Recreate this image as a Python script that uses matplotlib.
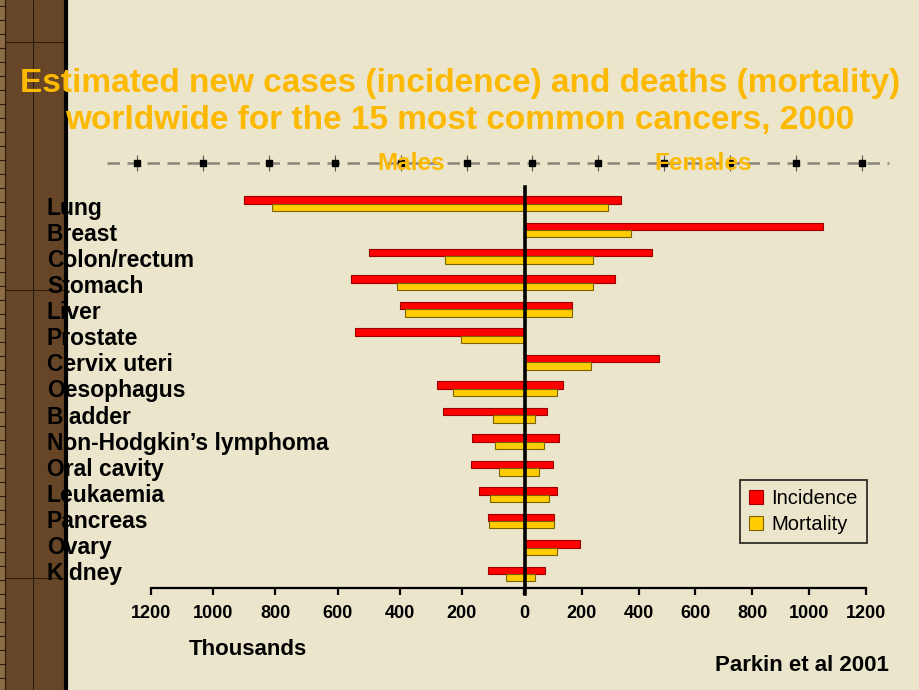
import numpy as np
import matplotlib
matplotlib.use("Agg")
import matplotlib.pyplot as plt
from matplotlib.lines import Line2D
from matplotlib.patches import Rectangle

plt.rcParams["font.family"] = ["Liberation Sans", "DejaVu Sans"]

# values in thousands (Parkin et al 2001)
cancers = ["Lung", "Breast", "Colon/rectum", "Stomach", "Liver", "Prostate",
           "Cervix uteri", "Oesophagus", "Bladder", "Non-Hodgkin\u2019s lymphoma",
           "Oral cavity", "Leukaemia", "Pancreas", "Ovary", "Kidney"]
male_inc = [902, np.nan, 499, 558, 398, 543, np.nan, 279, 260, 167, 170, 144, 116, np.nan, 117]
male_mort = [810, np.nan, 255, 407, 384, 204, np.nan, 227, 99, 93, 81, 109, 112, np.nan, 57]
female_inc = [337, 1050, 446, 318, 166, np.nan, 471, 133, 78, 120, 97, 113, 101, 192, 72]
female_mort = [293, 373, 240, 241, 165, np.nan, 233, 112, 35, 68, 48, 86, 101, 114, 35]
ticks = [0, 200, 400, 600, 800, 1000, 1200]
series = ["Incidence", "Mortality"]

PAPER = "#ebe5cc"; BROWN = "#674628"; GOLD = "#fdb900"
RED = "#ff0000"; RED_EDGE = "#9a0000"; YEL = "#ffcc00"; YEL_EDGE = "#7a6400"

W, H = 920, 690
def fx(x): return x / W
def fy(y): return 1 - y / H

fig = plt.figure(figsize=(W / 100, H / 100), dpi=100)
fig.patch.set_facecolor(PAPER)

# ---- dark strip on the left ----
def fline(xs, ys, **kw):
    fig.add_artist(Line2D([fx(x) for x in xs], [fy(y) for y in ys],
                          transform=fig.transFigure, **kw))
fig.add_artist(Rectangle((0, 0), fx(65), 1, transform=fig.transFigure,
                         fc=BROWN, ec="none", zorder=0))
fig.add_artist(Rectangle((0, 0), fx(5), 1, transform=fig.transFigure,
                         fc="#8c6c44", ec="none", zorder=0))
for yy in range(6, 690, 14):
    fline([0, 5], [yy, yy], color="#2a1a0e", lw=0.8)
fline([5, 5], [0, 690], color="#2a1a0e", lw=0.8)
fline([33, 33], [0, 690], color="#2a1a0e", lw=0.7)
for yy in (42, 290, 578):
    fline([5, 65], [yy, yy], color="#2a1a0e", lw=0.7)
fline([66.5, 66.5], [0, 690], color="black", lw=3)

# ---- title ----
fig.text(fx(460), fy(92), "Estimated new cases (incidence) and deaths (mortality)",
         ha="center", va="baseline", fontsize=24, fontweight="bold", color=GOLD)
fig.text(fx(460), fy(129), "worldwide for the 15 most common cancers, 2000",
         ha="center", va="baseline", fontsize=24, fontweight="bold", color=GOLD)

# ---- dashed top rule with square markers ----
fline([107, 889], [163, 163], color="#8a877c", lw=1.8, dashes=(5, 3))
mx = np.linspace(137, 862, 12)
fline(mx, [163] * 12, ls="none", marker="|", ms=12, mew=0.8, color="#555")
fline(mx, [163] * 12, ls="none", marker="s", ms=4.5, color="black")
fig.text(fx(411), fy(170), "Males", ha="center", va="baseline",
         fontsize=17.5, fontweight="bold", color=GOLD)
fig.text(fx(703), fy(170), "Females", ha="center", va="baseline",
         fontsize=17.5, fontweight="bold", color=GOLD)

# ---- the two half charts ----
rows = np.arange(len(cancers))
bh = 0.28
top, bot = 187, 588
axL = fig.add_axes([fx(151), fy(bot), fx(524) - fx(151), (bot - top) / H])
axR = fig.add_axes([fx(525), fy(bot), fx(866) - fx(525), (bot - top) / H])
for ax in (axL, axR):
    ax.set_facecolor("none")
    ax.set_ylim(14.53, -0.624)
    for s in ("top", "right", "left"):
        ax.spines[s].set_visible(False)
    ax.spines["bottom"].set_linewidth(1.6)
    ax.set_yticks([])
    ax.tick_params(axis="x", direction="out", length=5, width=1.6, pad=7, labelsize=13)
axL.set_xlim(1200, 0); axR.set_xlim(0, 1200)
axL.set_xticks(ticks); axR.set_xticks(ticks[1:])
for ax in (axL, axR):
    plt.setp(ax.get_xticklabels(), fontweight="bold")

axL.barh(rows - bh / 2, male_inc, height=bh, color=RED, edgecolor=RED_EDGE, lw=0.8)
axL.barh(rows + bh / 2, male_mort, height=bh, color=YEL, edgecolor=YEL_EDGE, lw=0.8)
b1 = axR.barh(rows - bh / 2, female_inc, height=bh, color=RED, edgecolor=RED_EDGE, lw=0.8)
b2 = axR.barh(rows + bh / 2, female_mort, height=bh, color=YEL, edgecolor=YEL_EDGE, lw=0.8)

# zero line
fline([524.5, 524.5], [top, 594], color="black", lw=2.6, zorder=5)

# category labels
for i, name in enumerate(cancers):
    fig.text(fx(47), fy(215 + 26.07 * i), name, ha="left", va="baseline",
             fontsize=16.5, fontweight="bold", color="black")

leg = fig.legend([b1, b2], series, loc="upper left",
                 bbox_to_anchor=(fx(740), fy(480)), frameon=True, fancybox=False,
                 edgecolor="black", facecolor="none", fontsize=14.5,
                 handlelength=0.7, handleheight=0.7, handletextpad=0.4,
                 borderpad=0.45, labelspacing=0.35, borderaxespad=0)
leg.get_frame().set_linewidth(1.3)

fig.text(fx(248), fy(655), "Thousands", ha="center", va="baseline",
         fontsize=16, fontweight="bold")
fig.text(fx(889), fy(671), "Parkin et al 2001", ha="right", va="baseline",
         fontsize=16, fontweight="bold")

fig.savefig("out.png", dpi=100, facecolor=PAPER)
